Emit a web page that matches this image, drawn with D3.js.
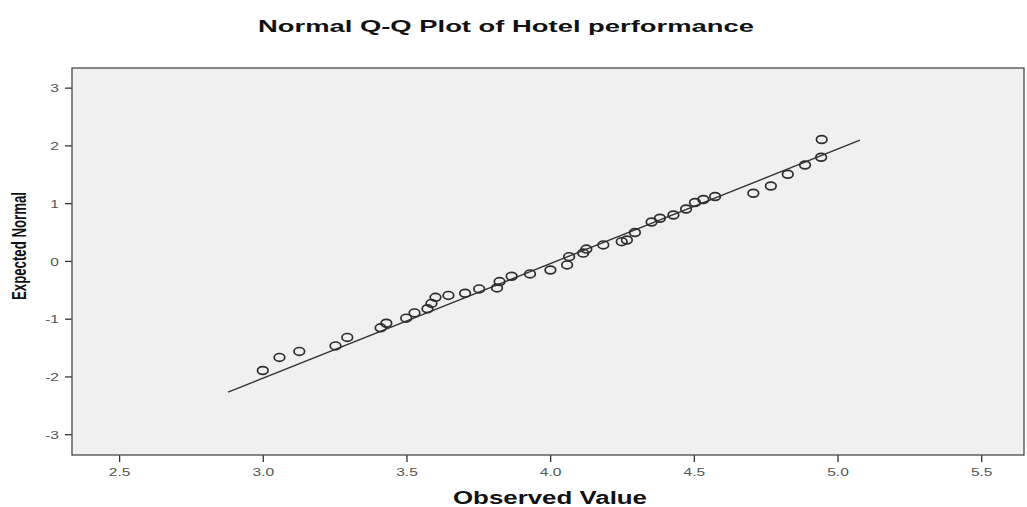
<!DOCTYPE html>
<html>
<head>
<meta charset="utf-8">
<script src="https://cdn.jsdelivr.net/npm/d3@7/dist/d3.min.js"></script>
<style>
  html, body { margin: 0; padding: 0; background: #ffffff; }
  svg { display: block; font-family: "Liberation Sans", Arial, sans-serif; }
</style>
</head>
<body>
<svg id="chart" width="1027" height="507"></svg>
<script>
// Observed values of hotel performance and their expected normal scores
const observed = [3.000, 3.058, 3.127, 3.253, 3.294, 3.410, 3.430, 3.499, 3.528, 3.573,
                  3.587, 3.601, 3.646, 3.704, 3.753, 3.815, 3.824, 3.866, 3.930, 4.001,
                  4.059, 4.066, 4.115, 4.126, 4.185, 4.249, 4.267, 4.295, 4.353, 4.382,
                  4.429, 4.473, 4.504, 4.533, 4.574, 4.707, 4.768, 4.827, 4.887, 4.943,
                  4.945];
const expectedNormal = [-1.898, -1.670, -1.566, -1.471, -1.324, -1.159, -1.078, -0.991, -0.900, -0.827,
                        -0.735, -0.631, -0.597, -0.559, -0.484, -0.467, -0.358, -0.265, -0.225, -0.156,
                        -0.069, 0.074, 0.135, 0.205, 0.277, 0.334, 0.363, 0.493, 0.675, 0.739,
                        0.796, 0.900, 1.012, 1.064, 1.116, 1.171, 1.298, 1.500, 1.661, 1.794,
                        2.102];

// Reference line (theoretical normal) end points
const lineObserved = [2.879, 5.078];
const lineExpected = [-2.27, 2.09];

// Axis ticks and ranges
const xTicks = [2.5, 3.0, 3.5, 4.0, 4.5, 5.0, 5.5];
const yTicks = [-3, -2, -1, 0, 1, 2, 3];
const xDomain = [2.336, 5.649];
const yDomain = [-3.36, 3.34];

const titleText = "Normal Q-Q Plot of Hotel performance";
const xTitle = "Observed Value";
const yTitle = "Expected Normal";

const svg = d3.select("#chart");
const plot = { left: 72, top: 68, right: 1024, bottom: 455 };

const x = d3.scaleLinear().domain(xDomain).range([plot.left, plot.right]);
const y = d3.scaleLinear().domain(yDomain).range([plot.bottom, plot.top]);

// plot background
svg.append("rect")
  .attr("x", plot.left).attr("y", plot.top)
  .attr("width", plot.right - plot.left).attr("height", plot.bottom - plot.top)
  .attr("fill", "#f0f0f0");

// widen text horizontally to the chart's stretched look
function stretch(sel, factor) {
  sel.each(function () {
    const w = this.getComputedTextLength();
    d3.select(this).attr("textLength", w * factor).attr("lengthAdjust", "spacingAndGlyphs");
  });
}

// axes (plain hyphen for negatives)
const xAxis = svg.append("g")
  .attr("transform", `translate(0,${plot.bottom})`)
  .call(d3.axisBottom(x).tickValues(xTicks).tickFormat(d => d.toFixed(1)).tickSize(7).tickSizeOuter(0));
const yAxis = svg.append("g")
  .attr("transform", `translate(${plot.left},0)`)
  .call(d3.axisLeft(y).tickValues(yTicks).tickFormat(d => String(d)).tickSize(7).tickSizeOuter(0));

[xAxis, yAxis].forEach(g => {
  g.select(".domain").remove();
  g.selectAll(".tick line").attr("stroke", "#333").attr("stroke-width", 1.3);
  g.selectAll(".tick text")
    .attr("fill", "#555")
    .style("font-family", "'Liberation Sans', Arial, sans-serif")
    .style("font-size", "11.5px");
});
xAxis.selectAll(".tick text").attr("dy", "0").attr("y", 20.5);
yAxis.selectAll(".tick text").attr("x", -13).attr("dy", "0.36em");
stretch(xAxis.selectAll(".tick text"), 1.35);
stretch(yAxis.selectAll(".tick text"), 1.35);

// plot frame
svg.append("rect")
  .attr("x", plot.left).attr("y", plot.top)
  .attr("width", plot.right - plot.left).attr("height", plot.bottom - plot.top)
  .attr("fill", "none").attr("stroke", "#4a4a4a").attr("stroke-width", 1.3);

// reference line
const linePts = lineObserved.map((v, i) => [v, lineExpected[i]]);
svg.append("path")
  .datum(linePts)
  .attr("d", d3.line().x(d => x(d[0])).y(d => y(d[1])))
  .attr("fill", "none").attr("stroke", "#333").attr("stroke-width", 1.4);

// points
const pts = observed.map((v, i) => ({ x: v, y: expectedNormal[i] }));
svg.append("g").selectAll("ellipse")
  .data(pts)
  .join("ellipse")
  .attr("cx", d => x(d.x)).attr("cy", d => y(d.y))
  .attr("rx", 5.3).attr("ry", 3.9)
  .attr("fill", "none").attr("stroke", "#2e2e2e").attr("stroke-width", 1.7);

// titles
svg.append("text")
  .attr("x", 506).attr("y", 32)
  .attr("text-anchor", "middle")
  .attr("font-weight", "bold").attr("font-size", 17)
  .attr("fill", "#111")
  .attr("textLength", 496).attr("lengthAdjust", "spacingAndGlyphs")
  .text(titleText);

svg.append("text")
  .attr("x", 550).attr("y", 504)
  .attr("text-anchor", "middle")
  .attr("font-weight", "bold").attr("font-size", 18)
  .attr("fill", "#111")
  .attr("textLength", 194).attr("lengthAdjust", "spacingAndGlyphs")
  .text(xTitle);

svg.append("text")
  .attr("transform", "translate(26,246) rotate(-90)")
  .attr("text-anchor", "middle")
  .attr("font-weight", "bold").attr("font-size", 21)
  .attr("fill", "#111")
  .attr("textLength", 108).attr("lengthAdjust", "spacingAndGlyphs")
  .text(yTitle);
</script>
</body>
</html>
